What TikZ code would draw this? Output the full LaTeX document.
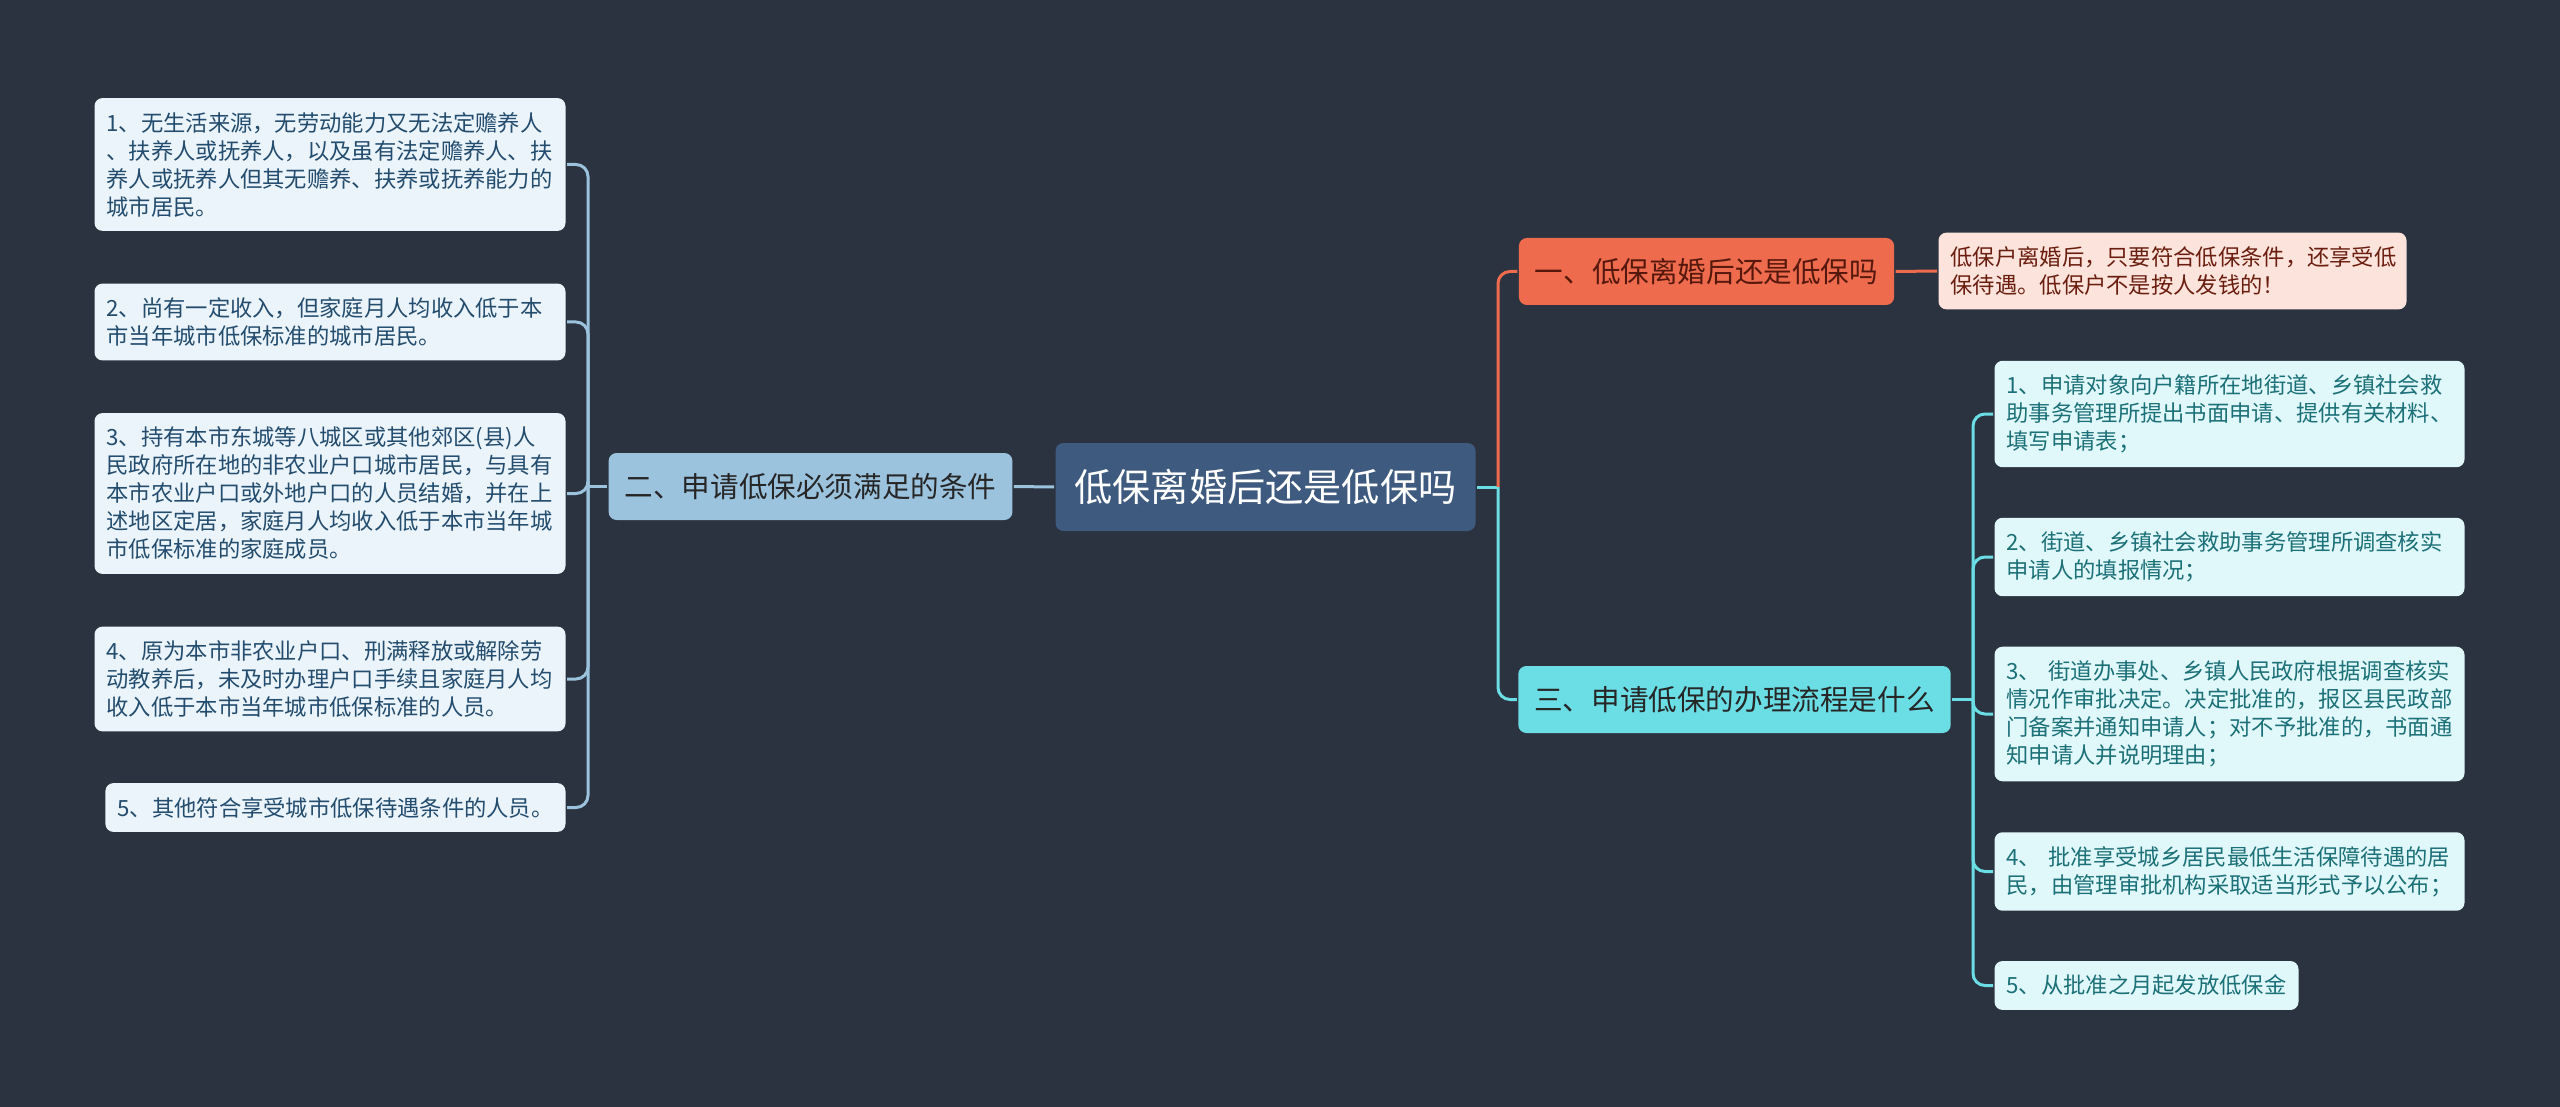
\documentclass[tikz,border=0pt]{standalone}
\usepackage{fontspec}
\setmainfont{Noto Sans CJK SC}
\definecolor{bgc}{HTML}{2B3340}
\definecolor{rootc}{HTML}{3E5A7E}
\definecolor{blueB}{HTML}{9CC3DE}
\definecolor{blueL}{HTML}{EBF4FA}
\definecolor{blueT}{HTML}{234C6E}
\definecolor{redB}{HTML}{EE6B4D}
\definecolor{redL}{HTML}{FCE4DC}
\definecolor{redT}{HTML}{6B1E10}
\definecolor{cyanB}{HTML}{6BDDE4}
\definecolor{cyanL}{HTML}{E1F8FA}
\definecolor{cyanT}{HTML}{1C7078}
\begin{document}
\begin{tikzpicture}[x=1pt, y=-1pt, line width=3pt,
  box/.style={rounded corners=8pt, inner xsep=12pt, inner ysep=14pt, align=left,
    font=\fontsize{22.3}{28}\selectfont},
  leafL/.style={box, fill=blueL, text=blueT},
  leafR/.style={box, fill=cyanL, text=cyanT},
  leafO/.style={box, fill=redL, text=redT},
  branch/.style={rounded corners=8pt, inner xsep=16pt, minimum height=67pt,
    font=\fontsize{28.6}{34}\selectfont},
  link/.style={rounded corners=12pt}]
  \useasboundingbox (0,0) rectangle (2560,1107);
  \fill[bgc] (0,0) rectangle (2560,1107);
  \def\sL{588}
  \def\sT{1498}
  \def\sR{1973}
  % 中心主题
  \node[rounded corners=8pt, fill=rootc, text=white, inner xsep=19pt, minimum height=88pt,
    font=\fontsize{38.2}{44}\selectfont] (root) at (1265.5,487) {低保离婚后还是低保吗};
  % 分支
  \node[branch, fill=blueB, text=black!85] (b2) at (810.5,486.5) {二、申请低保必须满足的条件};
  \node[branch, fill=redB, text=redT!80!black] (b1) at (1706.5,271.5) {一、低保离婚后还是低保吗};
  \node[branch, fill=cyanB, text=black!85] (b3) at (1734.5,699.5) {三、申请低保的办理流程是什么};
  % 左侧：条件
  \node[leafL, text width=447pt, anchor=east] (c1) at (567,164.5)
    {1、无生活来源，无劳动能力又无法定赡养人\\、扶养人或抚养人，以及虽有法定赡养人、扶\\养人或抚养人但其无赡养、扶养或抚养能力的\\城市居民。};
  \node[leafL, text width=447pt, anchor=east] (c2) at (567,322)
    {2、尚有一定收入，但家庭月人均收入低于本\\市当年城市低保标准的城市居民。};
  \node[leafL, text width=447pt, anchor=east] (c3) at (567,493.5)
    {3、持有本市东城等八城区或其他郊区(县)人\\民政府所在地的非农业户口城市居民，与具有\\本市农业户口或外地户口的人员结婚，并在上\\述地区定居，家庭月人均收入低于本市当年城\\市低保标准的家庭成员。};
  \node[leafL, text width=447pt, anchor=east] (c4) at (567,679)
    {4、原为本市非农业户口、刑满释放或解除劳\\动教养后，未及时办理户口手续且家庭月人均\\收入低于本市当年城市低保标准的人员。};
  \node[leafL, anchor=east] (c5) at (567,807.5) {5、其他符合享受城市低保待遇条件的人员。};
  % 右上
  \node[leafO, text width=444pt, anchor=west] (o1) at (1937,271)
    {低保户离婚后，只要符合低保条件，还享受低\\保待遇。低保户不是按人发钱的！};
  % 右侧：流程
  \node[leafR, text width=446pt, anchor=west] (p1) at (1993,414)
    {1、申请对象向户籍所在地街道、乡镇社会救\\助事务管理所提出书面申请、提供有关材料、\\填写申请表；};
  \node[leafR, text width=446pt, anchor=west] (p2) at (1993,557)
    {2、街道、乡镇社会救助事务管理所调查核实\\申请人的填报情况；};
  \node[leafR, text width=446pt, anchor=west] (p3) at (1993,714)
    {3、 街道办事处、乡镇人民政府根据调查核实\\情况作审批决定。决定批准的，报区县民政部\\门备案并通知申请人；对不予批准的，书面通\\知申请人并说明理由；};
  \node[leafR, text width=446pt, anchor=west] (p4) at (1993,871.5)
    {4、 批准享受城乡居民最低生活保障待遇的居\\民，由管理审批机构采取适当形式予以公布；};
  \node[leafR, anchor=west] (p5) at (1993,985.5) {5、从批准之月起发放低保金};
  % 连线
  \coordinate (jT) at (\sT,487);
  \coordinate (jL) at (\sL,486.5);
  \coordinate (jR) at (\sR,699.5);
  \draw[blueB] (root.west) -- (b2.east);
  \draw[cyanB] (root.east) -- (jT);
  \draw[link, redB] (jT) |- (b1.west);
  \draw[link, cyanB] (jT) |- (b3.west);
  \draw[redB] (b1.east) -- (o1.west);
  \draw[blueB] (b2.west) -- (jL);
  \foreach \n in {c1,c2,c3,c4,c5}
    \draw[link, blueB] (jL) |- (\n.east);
  \draw[cyanB] (b3.east) -- (jR);
  \foreach \n in {p1,p2,p3,p4,p5}
    \draw[link, cyanB] (jR) |- (\n.west);
\end{tikzpicture}
\end{document}
